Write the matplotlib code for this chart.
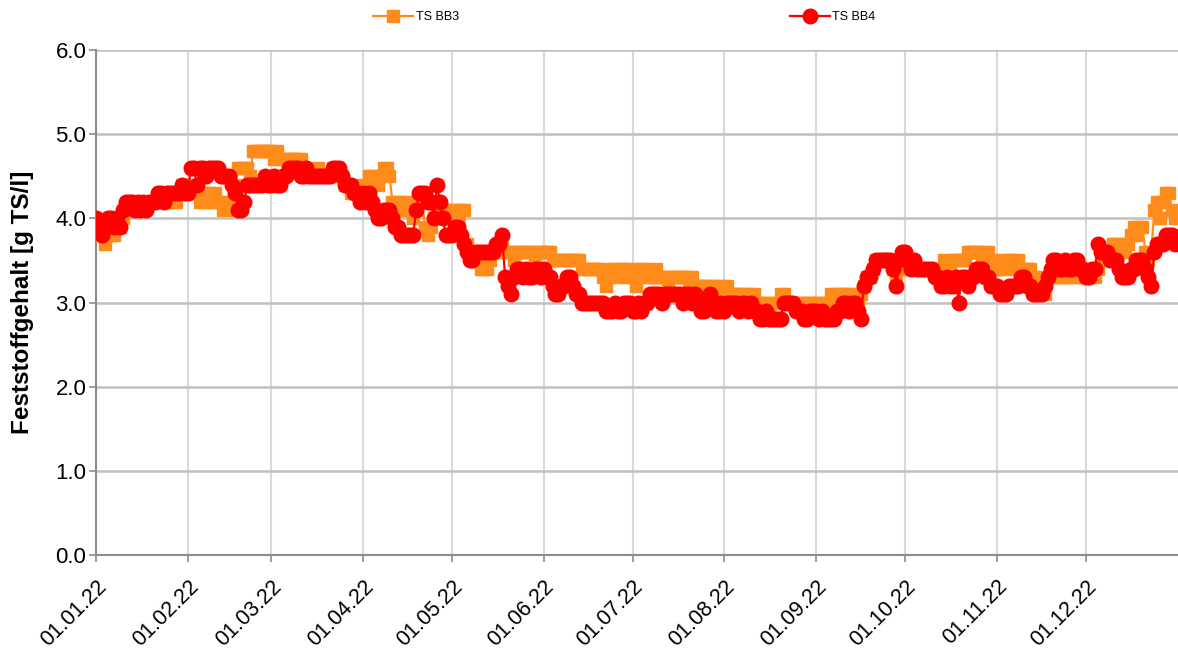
import pandas as pd
import matplotlib
matplotlib.use("Agg")
import matplotlib.pyplot as plt
import matplotlib.dates as mdates
from matplotlib.ticker import MultipleLocator, FormatStrFormatter

plt.rcParams['font.family'] = ['Liberation Sans', 'DejaVu Sans']

# daily values 2022, one row per month
ts_bb3 = [
    3.9, 3.8, 3.8, 3.7, 3.8, 3.8, 3.8, 3.9, 3.9, 4.0, 4.1, 4.2, 4.1, 4.1, 4.2, 4.2, 4.1, 4.2, 4.2, 4.2, 4.2, 4.2, 4.3, 4.2, 4.2, 4.3, 4.2, 4.2, 4.3, 4.4, 4.3,
    4.3, 4.4, 4.3, 4.3, 4.2, 4.3, 4.2, 4.3, 4.2, 4.3, 4.2, 4.2, 4.1, 4.1, 4.2, 4.2, 4.4, 4.6, 4.6, 4.6, 4.6, 4.5, 4.8, 4.8, 4.8, 4.8, 4.8, 4.8,
    4.8, 4.7, 4.8, 4.7, 4.7, 4.7, 4.7, 4.7, 4.7, 4.7, 4.7, 4.6, 4.5, 4.6, 4.5, 4.5, 4.6, 4.5, 4.5, 4.5, 4.5, 4.6, 4.5, 4.5, 4.5, 4.4, 4.4, 4.3, 4.4, 4.3, 4.3,
    4.2, 4.4, 4.5, 4.5, 4.5, 4.4, 4.5, 4.6, 4.6, 4.5, 4.2, 4.2, 4.2, 4.1, 4.1, 4.2, 4.1, 4.0, 4.1, 4.2, 4.2, 3.9, 3.8, 3.9, 4.0, 4.1, 4.0, 4.1, 4.1, 4.0,
    4.1, 4.1, 4.0, 4.1, 4.1, 3.7, 3.6, 3.5, 3.6, 3.5, 3.4, 3.4, 3.4, 3.5, 3.6, 3.6, 3.7, 3.7, 3.6, 3.6, 3.6, 3.5, 3.6, 3.6, 3.6, 3.6, 3.6, 3.6, 3.5, 3.6, 3.6,
    3.6, 3.6, 3.6, 3.5, 3.5, 3.5, 3.5, 3.5, 3.5, 3.5, 3.5, 3.5, 3.5, 3.4, 3.4, 3.4, 3.4, 3.4, 3.4, 3.4, 3.3, 3.2, 3.3, 3.4, 3.4, 3.3, 3.4, 3.4, 3.3, 3.4,
    3.3, 3.2, 3.3, 3.4, 3.4, 3.3, 3.3, 3.3, 3.4, 3.3, 3.3, 3.3, 3.2, 3.3, 3.3, 3.3, 3.3, 3.3, 3.3, 3.2, 3.3, 3.2, 3.2, 3.2, 3.2, 3.2, 3.1, 3.2, 3.2, 3.1, 3.2,
    3.1, 3.2, 3.1, 3.1, 3.1, 3.1, 3.0, 3.1, 3.1, 3.0, 3.1, 3.0, 3.0, 3.0, 3.0, 2.9, 3.0, 3.0, 3.0, 3.1, 3.1, 3.0, 3.0, 3.0, 3.0, 3.0, 3.0, 2.9, 3.0, 3.0, 3.0,
    3.0, 3.0, 2.9, 3.0, 3.0, 3.1, 3.0, 3.1, 3.1, 3.1, 3.0, 3.1, 3.1, 3.0, 3.0, 3.1, 3.2, 3.3, 3.3, 3.4, 3.5, 3.5, 3.5, 3.5, 3.5, 3.5, 3.4, 3.3, 3.4, 3.5,
    3.5, 3.4, 3.4, 3.4, 3.4, 3.4, 3.4, 3.4, 3.4, 3.4, 3.4, 3.4, 3.4, 3.5, 3.4, 3.4, 3.5, 3.5, 3.5, 3.5, 3.5, 3.6, 3.6, 3.6, 3.6, 3.6, 3.5, 3.6, 3.6, 3.5, 3.5,
    3.4, 3.4, 3.4, 3.5, 3.5, 3.5, 3.4, 3.5, 3.4, 3.4, 3.4, 3.4, 3.3, 3.3, 3.2, 3.2, 3.1, 3.3, 3.3, 3.3, 3.4, 3.3, 3.3, 3.4, 3.3, 3.3, 3.4, 3.4, 3.3, 3.3,
    3.3, 3.3, 3.4, 3.3, 3.4, 3.5, 3.6, 3.6, 3.6, 3.7, 3.7, 3.6, 3.7, 3.6, 3.7, 3.8, 3.9, 3.8, 3.9, 3.9, 3.6, 3.5, 3.6, 4.1, 4.2, 4.0, 4.2, 4.3, 4.3, 4.1, 4.0,
]

ts_bb4 = [
    4.0, 3.9, 3.8, 3.9, 4.0, 4.0, 3.9, 4.0, 3.9, 4.1, 4.2, 4.2, 4.2, 4.1, 4.2, 4.1, 4.2, 4.1, 4.2, 4.2, 4.2, 4.3, 4.3, 4.2, 4.3, 4.3, 4.3, 4.3, 4.3, 4.4, 4.3,
    4.3, 4.6, 4.6, 4.4, 4.6, 4.6, 4.5, 4.6, 4.6, 4.6, 4.6, 4.5, 4.5, 4.5, 4.5, 4.4, 4.3, 4.1, 4.1, 4.2, 4.4, 4.4, 4.4, 4.4, 4.4, 4.4, 4.5, 4.4,
    4.4, 4.5, 4.4, 4.4, 4.5, 4.5, 4.6, 4.6, 4.6, 4.6, 4.5, 4.5, 4.6, 4.5, 4.5, 4.5, 4.5, 4.5, 4.5, 4.5, 4.5, 4.6, 4.6, 4.6, 4.5, 4.4, 4.4, 4.4, 4.3, 4.3, 4.2,
    4.3, 4.2, 4.3, 4.2, 4.1, 4.0, 4.0, 4.1, 4.1, 4.1, 4.0, 3.9, 3.9, 3.8, 3.8, 3.8, 3.8, 3.8, 4.1, 4.3, 4.3, 4.3, 4.2, 4.2, 4.0, 4.4, 4.2, 4.0, 3.8, 3.8,
    3.8, 3.9, 3.9, 3.8, 3.7, 3.6, 3.5, 3.5, 3.6, 3.6, 3.6, 3.6, 3.6, 3.6, 3.6, 3.7, 3.7, 3.8, 3.3, 3.2, 3.1, 3.3, 3.4, 3.4, 3.3, 3.4, 3.3, 3.3, 3.4, 3.4, 3.3,
    3.4, 3.3, 3.3, 3.2, 3.1, 3.1, 3.2, 3.2, 3.3, 3.3, 3.2, 3.1, 3.1, 3.0, 3.0, 3.0, 3.0, 3.0, 3.0, 3.0, 3.0, 2.9, 2.9, 2.9, 3.0, 2.9, 2.9, 3.0, 3.0, 3.0,
    2.9, 2.9, 3.0, 2.9, 3.0, 3.0, 3.1, 3.1, 3.1, 3.1, 3.0, 3.1, 3.1, 3.1, 3.1, 3.1, 3.1, 3.0, 3.1, 3.1, 3.0, 3.1, 3.0, 2.9, 2.9, 3.0, 3.1, 3.0, 2.9, 2.9, 3.0,
    2.9, 3.0, 3.0, 3.0, 3.0, 2.9, 3.0, 3.0, 2.9, 3.0, 2.9, 2.9, 2.8, 2.8, 2.9, 2.8, 2.8, 2.8, 2.8, 2.8, 3.0, 3.0, 3.0, 3.0, 2.9, 2.9, 2.9, 2.8, 2.8, 2.9, 2.9,
    2.9, 2.8, 2.9, 2.8, 2.8, 2.8, 2.8, 2.9, 2.9, 3.0, 3.0, 2.9, 3.0, 3.0, 2.9, 2.8, 3.2, 3.3, 3.3, 3.4, 3.5, 3.5, 3.5, 3.5, 3.5, 3.5, 3.4, 3.2, 3.5, 3.6,
    3.6, 3.5, 3.4, 3.5, 3.4, 3.4, 3.4, 3.4, 3.4, 3.4, 3.3, 3.3, 3.2, 3.2, 3.3, 3.2, 3.2, 3.3, 3.0, 3.3, 3.3, 3.2, 3.3, 3.3, 3.4, 3.4, 3.4, 3.3, 3.3, 3.2, 3.2,
    3.2, 3.1, 3.1, 3.1, 3.2, 3.2, 3.2, 3.2, 3.3, 3.3, 3.2, 3.2, 3.1, 3.1, 3.1, 3.1, 3.2, 3.3, 3.4, 3.5, 3.5, 3.4, 3.4, 3.5, 3.4, 3.4, 3.5, 3.5, 3.4, 3.4,
    3.3, 3.3, 3.4, 3.4, 3.7, 3.6, 3.6, 3.6, 3.5, 3.5, 3.5, 3.4, 3.3, 3.3, 3.3, 3.4, 3.4, 3.5, 3.5, 3.5, 3.4, 3.3, 3.2, 3.6, 3.7, 3.7, 3.7, 3.8, 3.8, 3.8, 3.7,
]

dates = pd.date_range("2022-01-01", periods=len(ts_bb4), freq="D")
month_ticks = pd.date_range("2022-01-01", "2022-12-01", freq="MS")

fig = plt.figure(figsize=(11.78, 6.57), dpi=100)
ax = fig.add_axes([0.0815, 0.155, 0.9185, 0.769])

ax.plot(dates, ts_bb3, color="#ff8c1a", lw=1.6, marker="s", ms=8.5, mec="#ff8c1a",
        label="TS BB3", zorder=3)
ax.plot(dates, ts_bb4, color="#ff0000", lw=1.6, marker="o", ms=10.5, mec="#ff0000",
        label="TS BB4", zorder=4)

ax.set_xlim(pd.Timestamp("2022-01-01"), pd.Timestamp("2023-01-01"))
ax.set_ylim(0, 6)
ax.yaxis.set_major_locator(MultipleLocator(1.0))
ax.yaxis.set_major_formatter(FormatStrFormatter("%.1f"))
ax.set_xticks(month_ticks)
ax.xaxis.set_major_formatter(mdates.DateFormatter("%d.%m.%y"))

ax.grid(axis="y", color="#c0c0c0", lw=1.8, zorder=0)
ax.grid(axis="x", color="#d9d9d9", lw=1.5, zorder=0)
ax.set_axisbelow(True)

for s in ["top", "right"]:
    ax.spines[s].set_visible(False)
for s in ["left", "bottom"]:
    ax.spines[s].set_color("#8c8c8c")
    ax.spines[s].set_linewidth(1.5)

ax.tick_params(axis="both", colors="#8c8c8c", length=5, width=1.2, labelcolor="black")
ax.tick_params(axis="y", labelsize=16, pad=2)
ax.tick_params(axis="x", labelsize=15.5, pad=10)
plt.setp(ax.get_xticklabels(), rotation=45, ha="right", rotation_mode="anchor")

ax.set_ylabel("Feststoffgehalt [g TS/l]", fontsize=17.5, fontweight="bold", labelpad=15)

fig.legend(loc="upper center", bbox_to_anchor=(0.53, 1.0), ncol=2, frameon=False,
           fontsize=9, columnspacing=26.5, handlelength=3.2, handletextpad=0.2)

fig.savefig("out.png", dpi=100)
